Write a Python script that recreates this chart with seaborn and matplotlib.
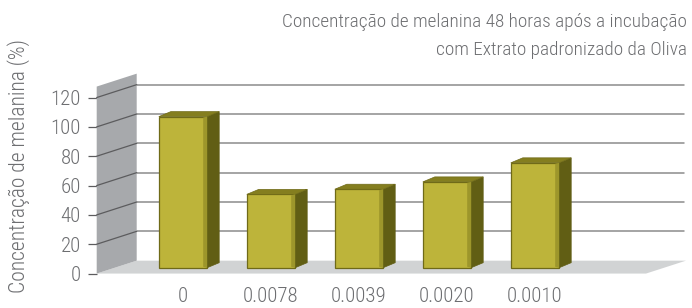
import numpy as np
import pandas as pd
import matplotlib
matplotlib.use("Agg")
import matplotlib.pyplot as plt
import seaborn as sns
from matplotlib.patches import Polygon, Rectangle

# data
doses = ["0", "0.0078", "0.0039", "0.0020", "0.0010"]
melanina = [103, 50, 53.5, 58.5, 71.5]
y_ticks = [0, 20, 40, 60, 80, 100, 120]
title_lines = ["Concentração de melanina 48 horas após a incubação",
               "com Extrato padronizado da Oliva"]
y_label = "Concentração de melanina (%)"

sns.set_theme(style="white")
plt.rcParams["font.family"] = ["Roboto Condensed", "DejaVu Sans"]
plt.rcParams["font.weight"] = "light"

TXT = "#6d6e71"
GRID = "#8c8c8c"
WALL = "#a7a9ac"
WALL_LINE = "#5c5c5e"
FLOOR = "#d1d3d4"
FRONT = "#bdb43a"
BEVEL = "#9d962b"
SIDE = "#615e14"
TOP = "#847e1f"
EDGE = "#6f6a18"
FS = 15

W, H = 692, 308
fig = plt.figure(figsize=(W / 100, H / 100), dpi=100)
ax = fig.add_axes([0, 0, 1, 1])

df = pd.DataFrame({"dose": doses, "melanina": melanina})
sns.barplot(data=df, x="dose", y="melanina", color=FRONT, saturation=1,
            width=0.55, edgecolor=EDGE, linewidth=0.9, ax=ax)

# map the axes onto the picture (pixels -> data units)
x0, xs = 183.0, 88.0      # first category centre, px per category
y0, ys = 267.7, 1.4667    # bar base, px per unit
ax.set_xlim(-x0 / xs, (W - x0) / xs)
ax.set_ylim((y0 - H) / ys, y0 / ys)

# pseudo 3d frame
xf, xb = (96.7 - x0) / xs, (136.7 - x0) / xs   # wall front / back
xr = (686 - x0) / xs                            # right end of the floor
dyf, dyb = -4.0, 4.8                # front / back plane shift
top = 127.5
ax.add_patch(Polygon([(xf, dyf), (xb, dyb), (xr, dyb), (xr - 40 / xs, dyf)],
                     closed=True, fc=FLOOR, ec="none", zorder=0.5))
ax.add_patch(Polygon([(xf, dyf), (xb, dyb), (xb, top + dyb), (xf, top + dyf)],
                     closed=True, fc=WALL, ec="none", zorder=1))
for v in y_ticks[1:]:
    ax.plot([xb, xr - 0.02], [v + dyb] * 2, color=GRID, lw=1.1, zorder=0.8)
    ax.plot([xf, xb], [v + dyf, v + dyb], color=WALL_LINE, lw=0.9, zorder=1.2)

# depth faces for the bars
ddx, ddy = 12 / xs, 5 / ys
for p in list(ax.patches):
    if not isinstance(p, Rectangle):
        continue
    x, w, h = p.get_x(), p.get_width(), p.get_height()
    p.set_zorder(3)
    bw = 4 / xs
    ax.add_patch(Polygon([(x + w - bw, 0.6), (x + w, 0), (x + w, h), (x + w - bw, h - 0.6)],
                         closed=True, fc=BEVEL, ec="none", zorder=3.1))
    ax.add_patch(Polygon([(x + w, 0), (x + w + ddx, ddy), (x + w + ddx, h + ddy), (x + w, h)],
                         closed=True, fc=SIDE, ec=SIDE, lw=0.5, zorder=3))
    ax.add_patch(Polygon([(x, h), (x + ddx, h + ddy), (x + w + ddx, h + ddy), (x + w, h)],
                         closed=True, fc=TOP, ec=EDGE, lw=0.5, zorder=3))

# axes, ticks and labels
for s in ["top", "right"]:
    ax.spines[s].set_visible(False)
ax.spines["left"].set_position(("data", xf))
ax.spines["left"].set_color("none")
ax.spines["bottom"].set_position(("data", dyf))
ax.spines["bottom"].set_color("none")
ax.set_yticks([v + dyf for v in y_ticks], [str(v) for v in y_ticks])
ax.tick_params(axis="y", direction="out", length=6.5, width=0.9, color=WALL_LINE,
               pad=5, labelsize=FS, labelcolor=TXT, left=True)
ax.tick_params(axis="x", length=0, pad=10, labelsize=FS, labelcolor=TXT)
ax.set_xlabel("")
ax.set_ylabel("")

fig.text(19 / W, 1 - 166 / H, y_label, rotation=90, ha="center", va="center",
         fontsize=15.5, color=TXT)
fig.text(687 / W, 1 - 27 / H, title_lines[0], ha="right", va="baseline",
         fontsize=13.9, color=TXT)
fig.text(687 / W, 1 - 55 / H, title_lines[1], ha="right", va="baseline",
         fontsize=13.9, color=TXT)

fig.savefig("out.png", dpi=100, facecolor="white")
